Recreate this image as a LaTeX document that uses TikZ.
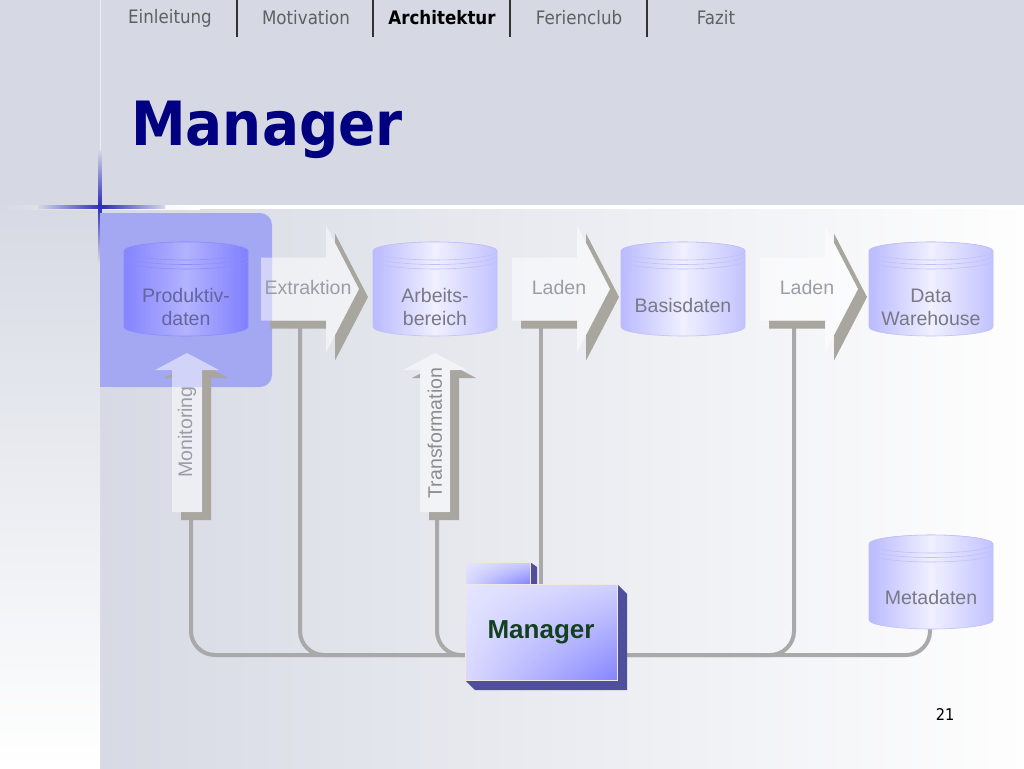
\documentclass[tikz,border=0pt]{standalone}
\usepackage{fontspec}
\setmainfont{Liberation Sans}
\newfontfamily\navfont[FakeStretch=0.9]{DejaVu Sans}
\usepackage{tikz}
\usetikzlibrary{backgrounds,shadings}

\definecolor{bgtop}{HTML}{D6D9E3}
\definecolor{bgmain}{HTML}{D7DAE4}
\definecolor{starblue}{HTML}{2A2ABF}
\definecolor{hlbox}{HTML}{A4A7F1}
\definecolor{navgray}{HTML}{606060}
\definecolor{titleblue}{HTML}{000080}
\definecolor{arrgray}{HTML}{A9A59F}
\definecolor{arrtext}{HTML}{9C9CA8}
\definecolor{dbtext}{HTML}{787886}
\definecolor{prodtext}{HTML}{6464A0}
\definecolor{buscol}{HTML}{A9A9A9}
\definecolor{mgrside}{HTML}{4F4F9B}
\definecolor{mgrtext}{HTML}{14401F}

\begin{document}
\begin{tikzpicture}[x=0.25mm,y=-0.25mm,
nav/.style={font=\navfont\fontsize{13.2}{15}\selectfont,text=navgray},
sep/.style={draw=black!80,line width=0.35mm},
title/.style={font=\navfont\bfseries\fontsize{43.4}{50}\selectfont,anchor=base west,inner sep=0},
dbtxt/.style={font=\fontsize{13.9}{16.4}\selectfont,align=center,text=dbtext},
arrtxt/.style={font=\fontsize{13.9}{16.4}\selectfont,text=arrtext,inner sep=0},
light body/.style={draw=black!10!blue!25,left color=blue!27!white,right color=blue!24!white,middle color=blue!6!white},
light line/.style={draw=black!10!blue!25},
prod body/.style={draw=blue!45,left color=blue!48!white,right color=blue!50!white,middle color=blue!30!white},
prod line/.style={draw=blue!45},
arrside/.style={fill=arrgray},
arrface/.style={fill=white,fill opacity=.5},
bus/.style={draw=buscol,line width=1mm,rounded corners=6mm},
corner shade/.style={shading=bilinear interpolation,upper left=white!90!blue,upper right=blue!18!white,
  lower left=blue!15!white,lower right=blue!48!white},
mgrbox/.style={draw=black!20!brown!15,minimum width=38mm,minimum height=24mm,inner sep=0,
  corner shade,font=\bfseries\fontsize{18.5}{22}\selectfont,text=mgrtext},
db/.pic={
  \path[#1 body] (-62,-38) -- (-62,38) arc[start angle=180,end angle=0,x radius=62,y radius=9]
    -- (62,-38) arc[start angle=0,end angle=-180,x radius=62,y radius=9] -- cycle;
  \path[#1 body] (0,-38) ellipse [x radius=62,y radius=9];
  \draw[#1 line] (-62,-33.5) arc[start angle=180,end angle=0,x radius=62,y radius=9];
  \draw[#1 line] (-62,-29) arc[start angle=180,end angle=0,x radius=62,y radius=9];
},
rarr/.pic={
  \begin{scope}[even odd rule]
    \clip (-30,-100) rectangle (140,100)
      (0,-31.5) -- (65,-31.5) -- (65,-63.5) -- (98,0) -- (65,63.5) -- (65,31.5) -- (0,31.5) -- cycle;
    \fill[arrside,shift={(9,8)}] (0,-31.5) -- (65,-31.5) -- (65,-63.5) -- (98,0) -- (65,63.5) -- (65,31.5) -- (0,31.5) -- cycle;
  \end{scope}
  \fill[arrface] (0,-31.5) -- (65,-31.5) -- (65,-63.5) -- (98,0) -- (65,63.5) -- (65,31.5) -- (0,31.5) -- cycle;
},
uarr/.pic={
  \begin{scope}[even odd rule]
    \clip (-70,-190) rectangle (70,30)
      (-15,0) -- (-15,-142) -- (-32,-142) -- (0,-159) -- (32,-142) -- (15,-142) -- (15,0) -- cycle;
    \fill[arrside,shift={(9,8)}] (-15,0) -- (-15,-142) -- (-32,-142) -- (0,-159) -- (32,-142) -- (15,-142) -- (15,0) -- cycle;
  \end{scope}
  \fill[arrface] (-15,0) -- (-15,-142) -- (-32,-142) -- (0,-159) -- (32,-142) -- (15,-142) -- (15,0) -- cycle;
}]
\useasboundingbox (0,0) rectangle (1024,768);

% slide background
\begin{scope}[on background layer]
\fill[bgtop] (0,0) rectangle (1024,768);
\shade[left color=bgmain,right color=white!97!bgmain] (100,208) rectangle (1024,768);
\shade[top color=bgmain,bottom color=white] (0,208) rectangle (100,768);
\shade[left color=bgtop,right color=white] (0,205) rectangle (200,209);
\fill[white] (200,205) rectangle (1024,209);
\fill[white,opacity=.6] (99.5,0) rectangle (101,205);
\shade[left color=bgtop,right color=bgtop,middle color=starblue] (38,205) rectangle (165,208);
\shade[top color=bgtop,bottom color=bgmain,middle color=starblue] (98.5,150) rectangle (101.5,262);
\end{scope}

% navigation
\node[nav] (nein) at (170,18) {Einleitung};
\node[nav] (nmot) at (306,18) {Motivation};
\node[nav,text=black,font=\navfont\bfseries\fontsize{13.2}{15}\selectfont] (narc) at (442,18) {Architektur};
\node[nav] (nfer) at (579,18) {Ferienclub};
\node[nav] (nfaz) at (716,18) {Fazit};
\draw[sep] (237,0) -- (237,37);
\draw[sep] (373,0) -- (373,37);
\draw[sep] (510,0) -- (510,37);
\draw[sep] (647,0) -- (647,37);

% title
\node[title,text=titleblue] (title) at (131,145) {Manager};

% highlighted source
\fill[hlbox,rounded corners=3mm] (100,213) rectangle (272,387);
\fill[hlbox] (100,213) rectangle (130,387);

% databases
\pic at (186,289) {db=prod};
\pic at (435,289) {db=light};
\pic at (683,289) {db=light};
\pic at (931,289) {db=light};
\pic at (931,582) {db=light};
\node[dbtxt,text=prodtext] (prod) at (186,307) {Produktiv-\\daten};
\node[dbtxt] (arb) at (435,307) {Arbeits-\\bereich};
\node[dbtxt] (basis) at (683,306) {Basisdaten};
\node[dbtxt] (dwh) at (931,307) {Data\\Warehouse};
\node[dbtxt] (meta) at (931,598) {Metadaten};

% process arrows
\pic at (261,289) {rarr};
\pic at (512,289) {rarr};
\pic at (760,289) {rarr};
\pic at (187,512) {uarr};
\pic at (435,512) {uarr};
\node[arrtxt] (extr) at (308,288) {Extraktion};
\node[arrtxt] (lad1) at (559,288) {Laden};
\node[arrtxt] (lad2) at (807,288) {Laden};
\node[arrtxt,rotate=90] (moni) at (187,432) {Monitoring};
\node[arrtxt,rotate=90,text=black!45] (trans) at (435,433) {Transformation};

\coordinate (extb) at (300,321);
\coordinate (lad1b) at (541,321);
\coordinate (lad2b) at (794,321);
\coordinate (monb) at (191,513);
\coordinate (trab) at (437,513);
\coordinate (metab) at (930,628);

% manager
\fill[mgrside] (530,562) -- (537,567) -- (537,585) -- (530,585) -- cycle;
\shade[draw=black!20!brown!15,corner shade,upper right=blue!20!white,lower right=blue!50!white] (465,562) rectangle (530,585);
\fill[mgrside] (617,584) -- (627,594) -- (627,690) -- (475,690) -- (465,680) -- (617,680) -- cycle;
\node[mgrbox] (mgr) at (541,632) {Manager};

% connections to the manager
\begin{scope}[on background layer]
\draw[bus] (monb) |- ([yshift=-5.75mm]mgr.west);
\draw[bus] (extb) |- ([yshift=-5.75mm]mgr.west);
\draw[bus] (trab) |- ([yshift=-5.75mm]mgr.west);
\draw[bus] (lad1b) -- (mgr.north);
\draw[bus] (lad2b) |- ([yshift=-5.75mm]mgr.east);
\draw[bus] (metab) |- ([yshift=-5.75mm]mgr.east);
\end{scope}

\node[font=\navfont\fontsize{11.5}{13}\selectfont] (pnum) at (945,714) {21};
\end{tikzpicture}
\end{document}
